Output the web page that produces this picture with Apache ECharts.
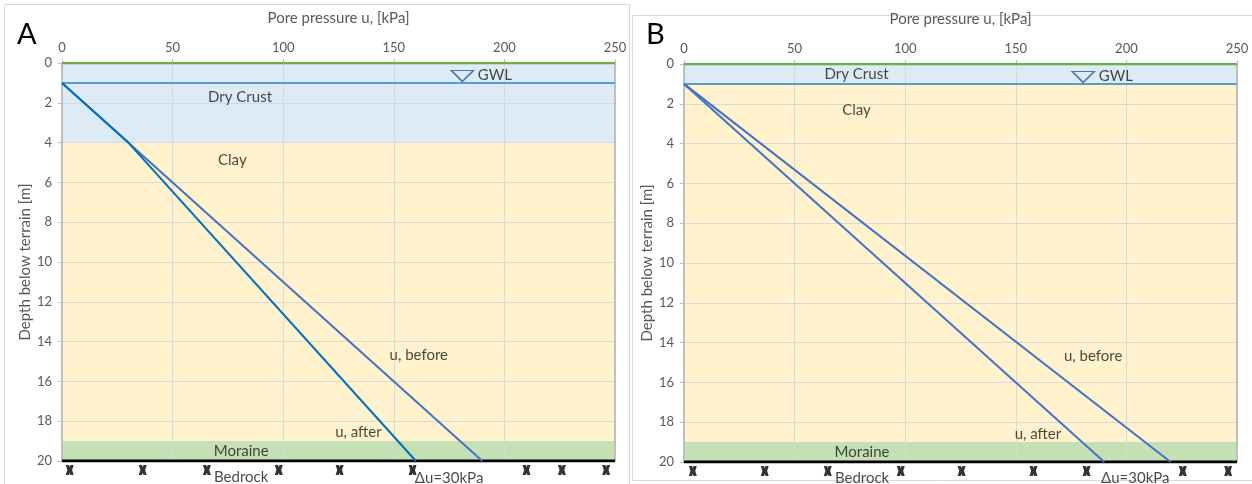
<!DOCTYPE html>
<html><head><meta charset="utf-8">
<script src="https://cdn.jsdelivr.net/npm/echarts@6/dist/echarts.min.js"></script>
<style>html,body{margin:0;padding:0;background:#fff}#c{width:1252px;height:484px}</style>
</head><body><div id="c"></div>
<script>
const xTicks = [0, 50, 100, 150, 200, 250];
const depthTicks = [0, 2, 4, 6, 8, 10, 12, 14, 16, 18, 20];
const beforeA = [[0, 1], [190, 20]];
const afterA = [[0, 1], [30, 4], [160, 20]];
const beforeB = [[0, 1], [220, 20]];
const afterB = [[0, 1], [190, 20]];
const layersA = [['Dry Crust', 0, 4], ['Clay', 4, 19], ['Moraine', 19, 20]];
const layersB = [['Dry Crust', 0, 1], ['Clay', 1, 19], ['Moraine', 19, 20]];
const terrainDepth = 0, gwlDepth = 1, bedrockDepth = 20;
const gwlSymbolA = [181, 0.65];
const gwlSymbolB = [180.5, 0.65];
const bedrockMarksA = [3.5, 36.5, 65.5, 98, 125.5, 158.5, 210, 226, 246];
const bedrockMarksB = [4, 36.5, 65, 98, 125.5, 158, 182, 225.5, 246];
const labelsA = [['Dry Crust', 80.5, 1.7], ['Clay', 77, 4.9], ['GWL', 188, 0.6], ['u, before', 161.3, 14.7],
  ['u, after', 134, 18.55], ['Moraine', 81, 19.5], ['Bedrock', 81, 20.8], ['Δu=30kPa', 175, 20.85]];
const labelsB = [['Dry Crust', 78, 0.5], ['Clay', 78, 2.3], ['GWL', 187.5, 0.6], ['u, before', 185, 14.7],
  ['u, after', 160, 18.6], ['Moraine', 80.5, 19.5], ['Bedrock', 80.5, 20.8], ['Δu=30kPa', 204, 20.8]];

const FONT = 'Lato';
const layerColors = {'Dry Crust': '#DDEBF7', 'Clay': '#FFF2CC', 'Moraine': '#C5E0B4'};
const XPATH = 'path://M0,0 L4,0 L5,2 L6,0 L10,0 L8,5 L10,10 L6,10 L5,8 L4,10 L0,10 L2,5 Z';

function panelAxes(gi) {
  const xa = {
    gridIndex: gi, type: 'value', position: 'top', min: 0, max: 250, interval: 50,
    name: 'Pore pressure u, [kPa]', nameLocation: 'middle', nameGap: 37,
    nameTextStyle: {color: '#595959', fontSize: 15, fontFamily: FONT},
    axisLabel: {color: '#595959', fontSize: 13, fontFamily: FONT, margin: 9},
    axisLine: {show: true, lineStyle: {color: '#BFBFBF'}},
    axisTick: {show: true, length: 4, lineStyle: {color: '#BFBFBF'}},
    splitLine: {show: true, lineStyle: {color: '#D9D9D9', width: 1}}, z: 1
  };
  const ya = {
    gridIndex: gi, type: 'value', inverse: true, min: 0, max: 20, interval: 2,
    name: 'Depth below terrain [m]', nameLocation: 'middle', nameGap: 29, nameRotate: 90,
    nameTextStyle: {color: '#595959', fontSize: 15, fontFamily: FONT},
    axisLabel: {color: '#595959', fontSize: 13, fontFamily: FONT, margin: 10},
    axisLine: {show: true, lineStyle: {color: '#BFBFBF', width: 2}},
    axisTick: {show: true, length: 4, lineStyle: {color: '#BFBFBF'}},
    splitLine: {show: true, lineStyle: {color: '#D9D9D9', width: 1}}, z: 1
  };
  return [xa, ya];
}

function panelSeries(gi, layers, before, after, afterColor, gwlSym, marks, labels) {
  const s = [];
  s.push({
    type: 'line', xAxisIndex: gi, yAxisIndex: gi, data: [], z: 0, silent: true,
    markArea: {silent: true, z: 0, data: layers.map(l => [{yAxis: l[1], itemStyle: {color: layerColors[l[0]]}}, {yAxis: l[2]}])}
  });
  const hline = (d, color, w) => ({type: 'line', xAxisIndex: gi, yAxisIndex: gi, data: [[0, d], [250, d]],
    symbol: 'none', lineStyle: {color: color, width: w}, z: 3, silent: true});
  s.push({type: 'line', xAxisIndex: gi, yAxisIndex: gi, data: [[250, 0], [250, 20]], symbol: 'none',
    lineStyle: {color: '#BFBFBF', width: 2}, z: 2, silent: true});
  s.push(hline(terrainDepth, '#70AD47', 2.5));
  s.push(hline(gwlDepth, '#5B9BD5', 2));
  s.push(hline(bedrockDepth, '#000000', 3));
  s.push({type: 'line', xAxisIndex: gi, yAxisIndex: gi, data: before, symbol: 'none',
    lineStyle: {color: '#4472C4', width: 2}, z: 4});
  s.push({type: 'line', xAxisIndex: gi, yAxisIndex: gi, data: after, symbol: 'none',
    lineStyle: {color: afterColor, width: 2}, z: 4});
  s.push({type: 'scatter', xAxisIndex: gi, yAxisIndex: gi, data: [gwlSym], symbol: 'triangle',
    symbolRotate: 180, symbolSize: [22, 11], itemStyle: {color: 'rgba(0,0,0,0)', borderColor: '#2F5597', borderWidth: 1.5}, z: 5});
  s.push({type: 'scatter', xAxisIndex: gi, yAxisIndex: gi, clip: false, data: marks.map(m => [m, 20.45]),
    symbol: XPATH, symbolSize: [8, 10], itemStyle: {color: '#000'}, z: 5});
  s.push({type: 'scatter', xAxisIndex: gi, yAxisIndex: gi, clip: false, symbolSize: 0,
    data: labels.map(l => ({value: [l[1], l[2]], label: {formatter: l[0], align: l[0] === 'GWL' ? 'left' : 'center'}})),
    label: {show: true, position: 'inside', color: '#1a1a1a', fontSize: 15, fontFamily: FONT}, z: 6});
  return s;
}

const axA = panelAxes(0), axB = panelAxes(1);
const chart = echarts.init(document.getElementById('c'), null, {renderer: 'canvas'});
chart.setOption({
  animation: false,
  backgroundColor: '#fff',
  grid: [
    {left: 62, top: 63, width: 553, height: 398},
    {left: 684, top: 64, width: 553, height: 398}
  ],
  xAxis: [axA[0], axB[0]],
  yAxis: [axA[1], axB[1]],
  graphic: [
    {type: 'rect', shape: {x: 4.5, y: 4.5, width: 625, height: 490}, style: {fill: 'none', stroke: '#D9D9D9', lineWidth: 1}, z: -10},
    {type: 'rect', shape: {x: 632.5, y: 15.5, width: 630, height: 465}, style: {fill: 'none', stroke: '#D9D9D9', lineWidth: 1}, z: -10},
    {type: 'text', left: 17, top: 20, style: {text: 'A', font: '29px ' + FONT, fill: '#000'}},
    {type: 'text', left: 646, top: 20, style: {text: 'B', font: '29px ' + FONT, fill: '#000'}}
  ],
  series: panelSeries(0, layersA, beforeA, afterA, '#0070C0', gwlSymbolA, bedrockMarksA, labelsA)
    .concat(panelSeries(1, layersB, beforeB, afterB, '#4472C4', gwlSymbolB, bedrockMarksB, labelsB))
});
</script></body></html>
